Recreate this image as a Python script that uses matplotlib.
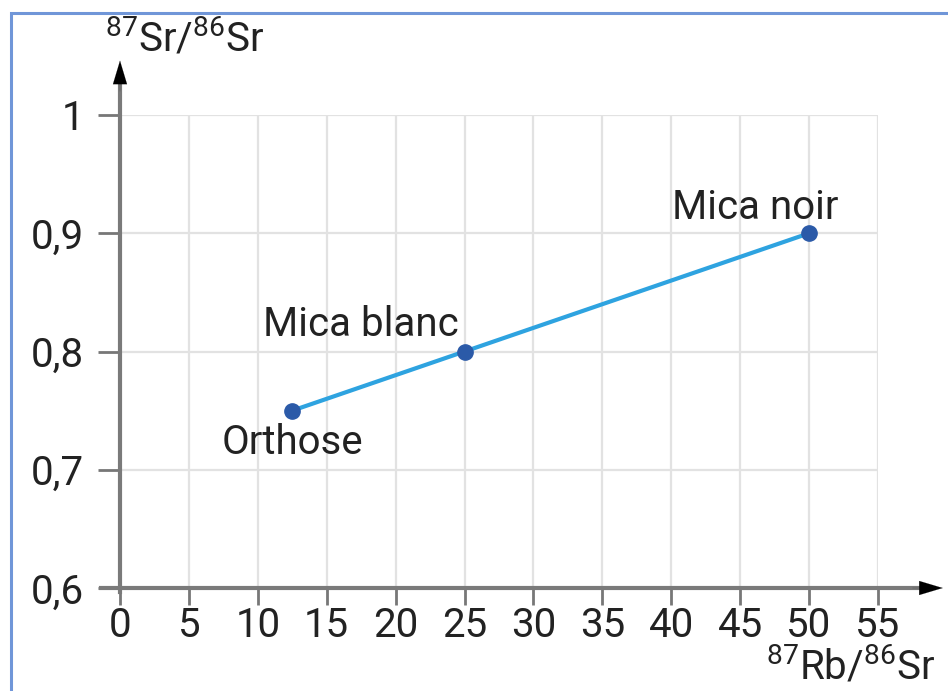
import matplotlib
matplotlib.use("Agg")
import matplotlib.pyplot as plt
from matplotlib.patches import Rectangle

# Isotope ratios of the three minerals
minerals = ["Orthose", "Mica blanc", "Mica noir"]
rb_sr = [12.5, 25, 50]
sr_sr = [0.75, 0.80, 0.90]

x_ticks = [0, 5, 10, 15, 20, 25, 30, 35, 40, 45, 50, 55]
y_ticks = [0.6, 0.7, 0.8, 0.9, 1.0]
y_tick_labels = ["0,6", "0,7", "0,8", "0,9", "1"]

plt.rcParams["font.family"] = ["Roboto", "DejaVu Sans"]
plt.rcParams["mathtext.fontset"] = "custom"
plt.rcParams["mathtext.rm"] = "Roboto"
plt.rcParams["mathtext.it"] = "Roboto:italic"
plt.rcParams["mathtext.bf"] = "Roboto:bold"

W, H = 948, 691
fig = plt.figure(figsize=(W / 100, H / 100), dpi=100)
fig.patch.set_facecolor("white")

# Frame around the figure
fig.add_artist(Rectangle((11 / W, -0.1), 1.2, (H - 13) / H + 0.1, transform=fig.transFigure,
                         fill=False, edgecolor="#7096d8", lw=2.2))

ax = fig.add_axes([120 / W, (H - 588) / H, (878 - 120) / W, (588 - 115) / H])
ax.set_xlim(0, 55)
ax.set_ylim(0.6, 1.0)
for s in ax.spines.values():
    s.set_visible(False)

ax.set_xticks(x_ticks)
ax.set_xticklabels([str(v) for v in x_ticks])
ax.set_yticks(y_ticks)
ax.set_yticklabels(y_tick_labels)
ax.tick_params(axis="both", direction="out", color="#777777", width=2, labelsize=29,
               labelcolor="#222222")
ax.tick_params(axis="x", length=12, pad=1)
ax.tick_params(axis="y", length=16, pad=10)
ax.grid(True, color="#e2e2e2", lw=1.6)
ax.set_axisbelow(True)

# Axis lines with arrowheads
axis_col = "#7a7a7a"
ax.plot([-1.4, 58.0], [0.6, 0.6], color=axis_col, lw=3, clip_on=False, zorder=3)
ax.plot([0, 0], [0.597, 1.03], color=axis_col, lw=3, clip_on=False, zorder=3)
head = dict(arrowstyle="-|>,head_length=1.2,head_width=0.36", mutation_scale=14,
            color="black", lw=0.1, shrinkA=0, shrinkB=0)
ax.annotate("", xy=(59.7, 0.6), xytext=(57.5, 0.6), annotation_clip=False,
            arrowprops=head, zorder=4)
ax.annotate("", xy=(0, 1.046), xytext=(0, 1.02), annotation_clip=False,
            arrowprops=head, zorder=4)

# Data line and points
ax.plot(rb_sr, sr_sr, color="#2ea3e0", lw=3, zorder=5, clip_on=False)
ax.plot(rb_sr, sr_sr, "o", color="#2b5aa8", ms=11, zorder=6, clip_on=False)

offsets = [(0, -43), (-104, 16), (-54, 14)]
for name, x, y, off in zip(minerals, rb_sr, sr_sr, offsets):
    ax.annotate(name, xy=(x, y), xytext=off, textcoords="offset pixels",
                ha="center", va="baseline", fontsize=29, color="#222222", zorder=7)

# Axis titles
fig.text(105 / W, 1 - 52 / H, r"$^{87}$Sr/$^{86}$Sr", ha="left", va="baseline",
         fontsize=29, color="#222222")
fig.text(935 / W, 1 - 680 / H, r"$^{87}$Rb/$^{86}$Sr", ha="right", va="baseline",
         fontsize=29, color="#222222")

fig.savefig("out.png", dpi=100, facecolor="white")
